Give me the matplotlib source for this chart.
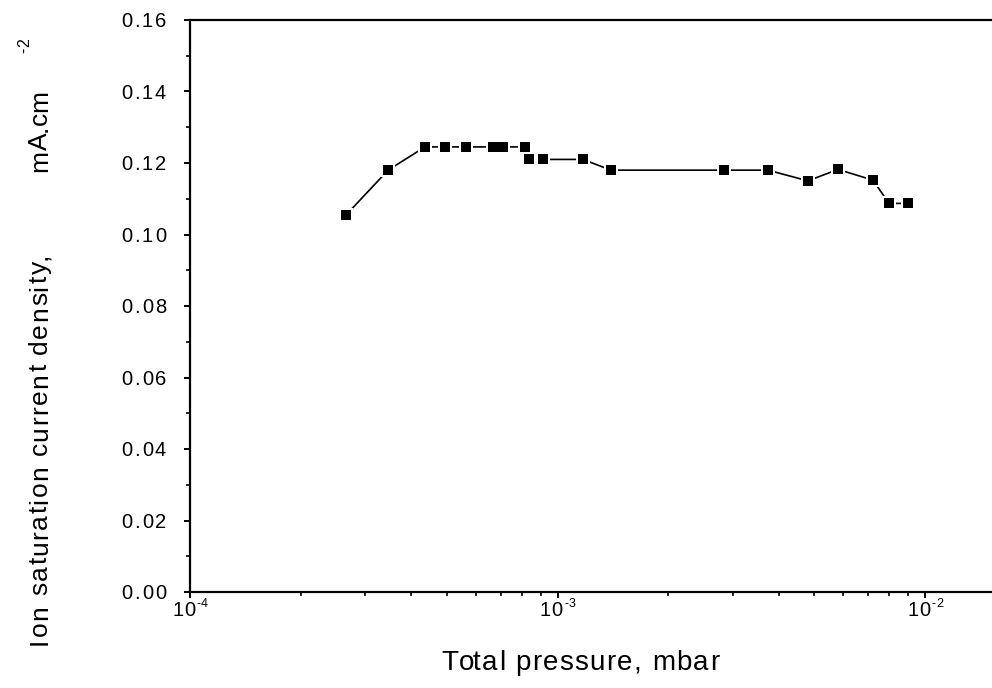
import matplotlib
matplotlib.use("Agg")
import matplotlib.pyplot as plt
from matplotlib.ticker import FixedLocator, LogLocator, NullFormatter
from matplotlib.font_manager import FontProperties
from matplotlib.textpath import TextToPath
import numpy as np

plt.rcParams['font.family'] = ['Liberation Sans', 'DejaVu Sans']

pressure = [2.66e-4, 3.46e-4, 4.36e-4, 4.94e-4, 5.64e-4, 6.68e-4, 7.11e-4, 8.16e-4,
            8.36e-4, 9.13e-4, 1.173e-3, 1.398e-3, 2.84e-3, 3.74e-3, 4.80e-3,
            5.80e-3, 7.22e-3, 7.98e-3, 8.99e-3]
current = [0.1055, 0.1180, 0.1245, 0.1245, 0.1245, 0.1245, 0.1245, 0.1245,
           0.1210, 0.1210, 0.1210, 0.1180, 0.1180, 0.1180, 0.1150,
           0.1182, 0.1152, 0.1087, 0.1087]
yticks = [0.00, 0.02, 0.04, 0.06, 0.08, 0.10, 0.12, 0.14, 0.16]
xticks = [1e-4, 1e-3, 1e-2]
xexps = ['-4', '-3', '-2']
xlabel = 'Total pressure, mbar'
ylabel_main = 'Ion saturation current density,'
ylabel_unit = 'mA.cm'
ylabel_sup = '-2'

W, H, DPI = 992, 688, 100
fig = plt.figure(figsize=(W / DPI, H / DPI), dpi=DPI)
ax = fig.add_axes([190 / W, 1 - 592 / H, 1 - 190 / W, (592 - 20) / H])

_t2p = TextToPath()


def adv(s, size):
    """advance width in px of string s at fontsize size (pt)."""
    fp = FontProperties(family='Liberation Sans', size=size)
    w1, _, _ = _t2p.get_text_width_height_descent(s + 'M', fp, ismath=False)
    w2, _, _ = _t2p.get_text_width_height_descent('M', fp, ismath=False)
    return (w1 - w2) * DPI / 72.0


def tracked(x, y, s, size, track, rot=0, align='left'):
    """Draw s with letter spacing; (x,y) pixel coords of baseline anchor (top-left origin)."""
    n = len(s)
    total = adv(s, size) + track * (n - 1)
    if align == 'center':
        start = -total / 2
    elif align == 'right':
        start = -total
    else:
        start = 0
    for i, ch in enumerate(s):
        if ch == ' ':
            continue
        off = start + adv(s[:i], size) + track * i
        if rot == 0:
            px, py = x + off, y
        else:
            px, py = x, y - off
        fig.text(px / W, 1 - py / H, ch, fontsize=size, rotation=rot,
                 rotation_mode='anchor', ha='left', va='baseline',
                 family='Liberation Sans')
    return total


ax.plot(pressure, current, color='black', lw=1.2, zorder=2)
ax.plot(pressure, current, ls='none', marker='s', ms=10.0, mfc='white',
        mec='white', mew=0, zorder=3)
ax.plot(pressure, current, ls='none', marker='s', ms=7.6, mfc='black',
        mec='black', mew=0, zorder=4)

ax.set_xscale('log')
ax.set_xlim(1e-4, 10 ** (-2 + 67 / 367.5))
ax.set_ylim(0, 0.16)

ax.set_yticks(yticks)
ax.yaxis.set_minor_locator(FixedLocator(np.arange(0.01, 0.16, 0.02)))
ax.set_xticks(xticks)
ax.xaxis.set_minor_locator(LogLocator(base=10, subs=np.arange(2, 10), numticks=20))
ax.xaxis.set_minor_formatter(NullFormatter())
ax.set_xticklabels([])
ax.set_yticklabels([])

for s in ['left', 'bottom', 'top']:
    ax.spines[s].set_linewidth(1.6)
ax.spines['right'].set_visible(False)

ax.tick_params(axis='both', which='major', direction='out', length=4.5, width=1.4)
ax.tick_params(axis='both', which='minor', direction='out', length=3.0, width=1.2)
ax.tick_params(top=False, which='both')

# y tick labels
for v in yticks:
    _, py = ax.transData.transform((1e-4, v))
    py = H - py
    tracked(166, py + 7.2, f"{v:.2f}", 14.5, 1.8, align='right')

# x tick labels 10^n
for v, e in zip(xticks, xexps):
    px, _ = ax.transData.transform((v, 0))
    wb = adv('10', 14.5)
    we = adv(e, 9)
    tot = wb + 1.5 + we
    x0 = px - tot / 2
    tracked(x0, 616, '10', 14.5, 0.5)
    tracked(x0 + wb + 2.0, 607, e, 9, 0.0)

# axis titles
tracked(580, 670, xlabel, 20, 1.3, align='center')
tracked(47, 645, ylabel_main, 19, 1.5, rot=90, align='left')
tracked(47, 172, ylabel_unit, 19, 0.0, rot=90, align='left')
tracked(29, 53, ylabel_sup, 11.5, 0.5, rot=90, align='left')

fig.savefig('out.png', dpi=DPI)
